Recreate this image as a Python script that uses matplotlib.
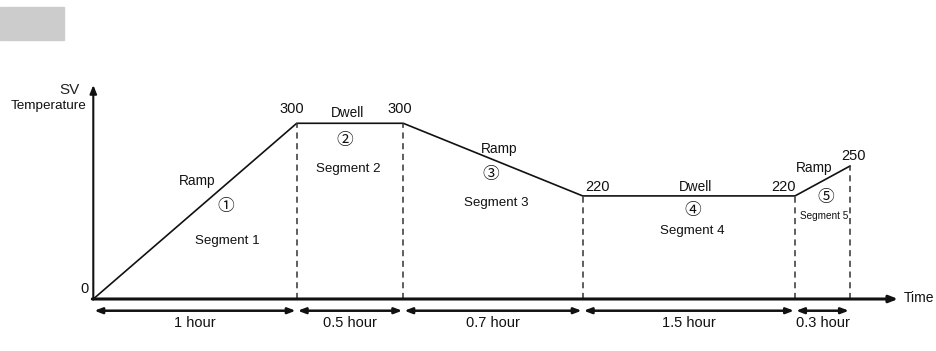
import matplotlib
matplotlib.use("Agg")
import matplotlib.pyplot as plt
from matplotlib.patches import Rectangle

# profile breakpoints (schematic positions as drawn, not to scale)
x_drawn = [0, 1.0, 1.524, 2.406, 3.450, 3.720]
level_drawn = [0, 300, 300, 176, 176, 227]
sv_labels = ["0", "300", "300", "220", "220", "250"]
durations = ["1 hour", "0.5 hour", "0.7 hour", "1.5 hour", "0.3 hour"]
seg_kind = ["Ramp", "Dwell", "Ramp", "Dwell", "Ramp"]
seg_mark = ["①", "②", "③", "④", "⑤"]
seg_names = ["Segment 1", "Segment 2", "Segment 3", "Segment 4", "Segment 5"]

TXT = ["Liberation Sans", "DejaVu Sans"]
CIRC = ["Noto Sans CJK SC", "DejaVu Sans"]
INK = "#111111"

W, H = 936, 351
fig = plt.figure(figsize=(W / 100, H / 100), dpi=100)
ax = fig.add_axes([0, 0, 1, 1])
# pixel anchors: origin at (93.3, 299), 1 unit x = 203.4 px, 1 deg = 0.5857 px
ox, oy, sx, sy = 93.3, 299.0, 203.4, 0.5857
ax.set_xlim(-ox / sx, (W - ox) / sx)
ax.set_ylim(-(H - oy) / sy, oy / sy)
ax.axis("off")


def px(x, y):
    return (x - ox) / sx, (oy - y) / sy


# grey tab top-left
fig.patches.append(Rectangle((0, 1 - 40 / H), 64 / W, 33 / H,
                             transform=fig.transFigure, color="#cccccc", zorder=0))

# axes arrows
x_end = (898 - ox) / sx
y_end = (oy - 85) / sy
ax.annotate("", xy=(x_end, 0), xytext=(-0.005, 0),
            arrowprops=dict(arrowstyle="-|>,head_length=0.5,head_width=0.2", lw=2.2, color=INK,
                            shrinkA=0, shrinkB=0))
ax.annotate("", xy=(0, y_end), xytext=(0, -1),
            arrowprops=dict(arrowstyle="-|>,head_length=0.5,head_width=0.2", lw=1.5, color=INK,
                            shrinkA=0, shrinkB=0))

# profile
ax.plot(x_drawn, level_drawn, color=INK, lw=1.2, solid_joinstyle="miter")

# dashed drops
for xd, yd in zip(x_drawn[1:], level_drawn[1:]):
    ax.plot([xd, xd], [0, yd], color="#333333", lw=1.1, ls=(0, (4, 3)))

# duration dimension arrows
dim_y = -20
lab_y = -41
for i, lab in enumerate(durations):
    a, b = x_drawn[i], x_drawn[i + 1]
    ax.annotate("", xy=(b - 0.005, dim_y), xytext=(a + 0.005, dim_y),
                arrowprops=dict(arrowstyle="<|-|>,head_length=0.45,head_width=0.17", lw=1.8,
                                color=INK, shrinkA=0, shrinkB=0))
    ax.text((a + b) / 2, lab_y, lab, ha="center", va="center", fontsize=10.5, family=TXT, color=INK)

ax.text(*px(904, 298), "Time", ha="left", va="center", fontsize=10, family=TXT, color=INK)
ax.text(*px(80, 90), "SV", ha="right", va="center", fontsize=11, family=TXT, color="#222222")
ax.text(*px(86, 106), "Temperature", ha="right", va="center", fontsize=9.7, family=TXT, color=INK)
ax.text(*px(89, 289), sv_labels[0], ha="right", va="center", fontsize=10.5, family=TXT, color=INK)

# value labels at breakpoints
val_pos = [(292, 109), (400, 109), (598, 187), (783, 187), (853, 156)]
for (vx, vy), lab in zip(val_pos, sv_labels[1:]):
    ax.text(*px(vx, vy), lab, ha="center", va="center", fontsize=10.5, family=TXT, color=INK)

# segment annotations (pixel layout)
kind_pos = [(197, 181), (347, 113), (499, 149), (695, 187), (814, 168)]
mark_pos = [(226, 207), (345, 140), (491, 175), (693, 210), (826, 197)]
name_pos = [(227, 241), (348, 169), (496, 203), (692, 231), (824, 216)]
for i in range(5):
    ax.text(*px(*kind_pos[i]), seg_kind[i], ha="center", va="center",
            fontsize=9.8, family=TXT, color=INK)
    ax.text(*px(*mark_pos[i]), seg_mark[i], ha="center", va="center",
            fontsize=12, family=CIRC, color=INK)
    ax.text(*px(*name_pos[i]), seg_names[i], ha="center", va="center",
            fontsize=9.6 if i < 4 else 7.2, family=TXT, color=INK)

fig.savefig("out.png", dpi=100)
